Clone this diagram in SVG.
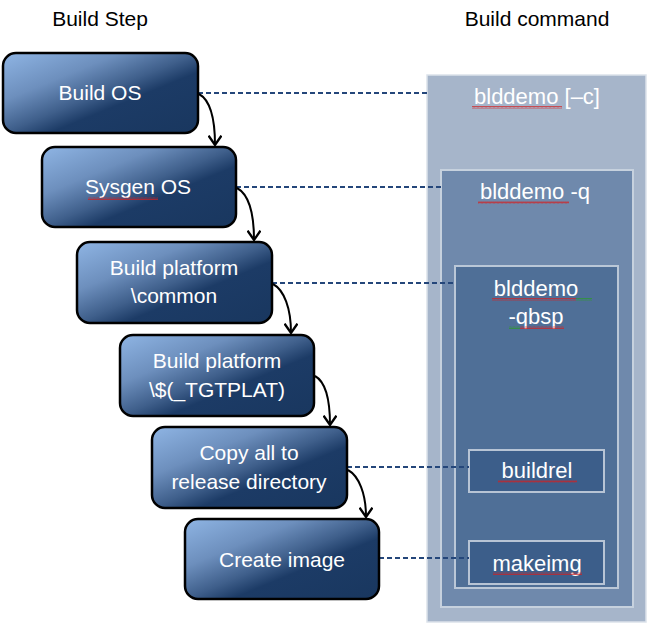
<svg xmlns="http://www.w3.org/2000/svg" width="657" height="632" viewBox="0 0 657 632">
  <defs>
    <linearGradient id="boxGrad" x1="0" y1="0" x2="1" y2="1">
      <stop offset="0" stop-color="#8fb5e4"/>
      <stop offset="0.3" stop-color="#6d8fbd"/>
      <stop offset="0.5" stop-color="#3f5f8b"/>
      <stop offset="0.62" stop-color="#1c3b66"/>
      <stop offset="1" stop-color="#19375f"/>
    </linearGradient>
    <pattern id="redWave" width="4" height="3" patternUnits="userSpaceOnUse">
      <path d="M0,2.5 L1,0.5 L2,2.5 L3,0.5 L4,2.5" fill="none" stroke="#d42020" stroke-width="0.7"/>
    </pattern>
    <pattern id="greenWave" width="4" height="3" patternUnits="userSpaceOnUse">
      <path d="M0,2.5 L1,0.5 L2,2.5 L3,0.5 L4,2.5" fill="none" stroke="#2a9a2a" stroke-width="0.7"/>
    </pattern>
    <marker id="arrow" markerUnits="userSpaceOnUse" markerWidth="14" markerHeight="14" refX="9" refY="6" orient="auto" viewBox="0 0 12 12">
      <path d="M1,0.5 L9,6 L1,11.5" fill="none" stroke="#000" stroke-width="2"/>
    </marker>
    <style>
      .step { fill: url(#boxGrad); stroke: #000; stroke-width: 2.5; }
      .stepText { font-family: "Liberation Sans", Arial, sans-serif; font-size: 21px; fill: #fff; text-anchor: middle; }
      .header { font-family: "Liberation Sans", Arial, sans-serif; font-size: 21px; fill: #000; text-anchor: middle; }
      .cmdText { font-family: "Liberation Sans", Arial, sans-serif; font-size: 22px; fill: #fff; text-anchor: middle; }
      .dash { fill: none; stroke: #24467a; stroke-width: 1.8; stroke-dasharray: 5 3; }
      .flow { fill: none; stroke: #000; stroke-width: 2; marker-end: url(#arrow); }
      .red { fill: url(#redWave); }
      .green { fill: url(#greenWave); }
    </style>
  </defs>

  <rect width="657" height="632" fill="#fff"/>

  <g id="headers">
    <text class="header" x="100" y="26">Build Step</text>
    <text class="header" x="537" y="26">Build command</text>
  </g>

  <g id="cmd-outer">
    <rect x="427" y="75" width="219" height="547" fill="#a6b5ca" stroke="#dbe2ea" stroke-width="1.5"/>
    <text class="cmdText" x="537" y="104">blddemo [–c]</text>
    <rect class="red" x="472" y="106" width="90" height="3"/>
  </g>
  <g id="cmd-q">
    <rect x="441" y="170" width="192" height="437" fill="#6f89ac" stroke="#c6d1de" stroke-width="2"/>
    <text class="cmdText" x="535" y="199">blddemo -q</text>
    <rect class="red" x="478" y="201" width="91" height="3"/>
  </g>
  <g id="cmd-qbsp">
    <rect x="455" y="266" width="163" height="322" fill="#4f6f97" stroke="#bac7d7" stroke-width="2"/>
    <text class="cmdText" x="536" y="296">blddemo</text>
    <rect class="red" x="492" y="298" width="84" height="3"/>
    <rect class="green" x="576" y="298" width="16" height="3"/>
    <text class="cmdText" x="536" y="324">-qbsp</text>
    <rect class="green" x="509" y="326" width="11" height="3"/>
    <rect class="red" x="520" y="326" width="44" height="3"/>
  </g>
  <g id="cmd-buildrel">
    <rect x="469" y="450" width="135" height="42" fill="#3c5e8a" stroke="#b7c4d5" stroke-width="2"/>
    <text class="cmdText" x="537" y="478">buildrel</text>
    <rect class="red" x="498" y="480" width="79" height="3"/>
  </g>
  <g id="cmd-makeimg">
    <rect x="469" y="541" width="135" height="43" fill="#3c5e8a" stroke="#b7c4d5" stroke-width="2"/>
    <text class="cmdText" x="537" y="571">makeimg</text>
    <rect class="red" x="493" y="572" width="89" height="3"/>
  </g>

  <g id="connectors">
    <path class="dash" d="M198,93 H427"/>
    <path class="dash" d="M236,187 H441"/>
    <path class="dash" d="M272,283 H455"/>
    <path class="dash" d="M347,467 H469"/>
    <path class="dash" d="M379,558 H469"/>

    <path class="flow" d="M199,94 C210,100 215,118 215,145"/>
    <path class="flow" d="M237,188 C248,194 254,212 254,240"/>
    <path class="flow" d="M273,284 C284,290 291,308 291,333"/>
    <path class="flow" d="M315,376 C326,382 330,400 330,425"/>
    <path class="flow" d="M348,470 C359,476 366,494 366,517"/>
  </g>

  <g id="step-build-os">
    <rect class="step" x="3" y="53" width="195" height="80" rx="13"/>
    <text class="stepText" x="100" y="100">Build OS</text>
  </g>
  <g id="step-sysgen-os">
    <rect class="step" x="42" y="147" width="194" height="80" rx="13"/>
    <text class="stepText" x="138" y="194">Sysgen OS</text>
    <rect class="red" x="88" y="197" width="70" height="3"/>
  </g>
  <g id="step-build-common">
    <rect class="step" x="77" y="242" width="195" height="81" rx="13"/>
    <text class="stepText" x="174" y="275">Build platform</text>
    <text class="stepText" x="174" y="303">\common</text>
  </g>
  <g id="step-build-tgtplat">
    <rect class="step" x="120" y="335" width="194" height="81" rx="13"/>
    <text class="stepText" x="217" y="368">Build platform</text>
    <text class="stepText" x="217" y="397">\$(_TGTPLAT)</text>
  </g>
  <g id="step-copy">
    <rect class="step" x="152" y="427" width="195" height="81" rx="13"/>
    <text class="stepText" x="249" y="460">Copy all to</text>
    <text class="stepText" x="249" y="489">release directory</text>
  </g>
  <g id="step-create-image">
    <rect class="step" x="185" y="519" width="194" height="80" rx="13"/>
    <text class="stepText" x="282" y="567">Create image</text>
  </g>
</svg>
